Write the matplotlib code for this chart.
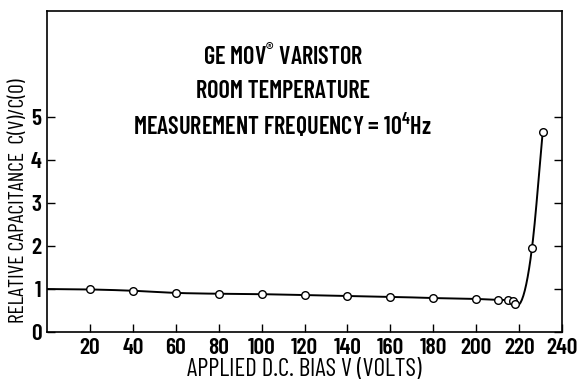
import numpy as np
import matplotlib.pyplot as plt

# applied bias (V) and relative capacitance C(V)/C(0)
bias = [20, 40, 60, 80, 100, 120, 140, 160, 180, 200, 210, 215, 217, 218, 226, 231]
cap = [0.99, 0.96, 0.91, 0.89, 0.88, 0.86, 0.84, 0.82, 0.79, 0.77, 0.745, 0.74, 0.72, 0.64, 1.95, 4.65]
# the curve starts on the axis at V = 0
start_bias = 0
start_cap = 1.0
x_ticks = [20, 40, 60, 80, 100, 120, 140, 160, 180, 200, 220, 240]
y_ticks = [0, 1, 2, 3, 4, 5]
title_lines = ['GE MOV$^{\\circledR}$ VARISTOR', 'ROOM TEMPERATURE',
               'MEASUREMENT FREQUENCY = 10$^{4}$Hz']

plt.rcParams['font.family'] = ['Barlow Condensed', 'DejaVu Sans']
plt.rcParams['font.weight'] = 600
plt.rcParams['mathtext.fontset'] = 'custom'
plt.rcParams['mathtext.rm'] = 'Barlow Condensed:semibold'


def smooth(xs, ys, n=12):
    """Hermite curve through the points, only for drawing the line."""
    xs = np.asarray(xs, float)
    ys = np.asarray(ys, float)
    m = np.gradient(ys, xs)
    px, py = [], []
    for i in range(len(xs) - 1):
        h = xs[i + 1] - xs[i]
        t = np.linspace(0, 1, n, endpoint=False)
        h00 = 2 * t**3 - 3 * t**2 + 1
        h10 = t**3 - 2 * t**2 + t
        h01 = -2 * t**3 + 3 * t**2
        h11 = t**3 - t**2
        px.extend(xs[i] + t * h)
        py.extend(h00 * ys[i] + h10 * h * m[i] + h01 * ys[i + 1] + h11 * h * m[i + 1])
    px.append(xs[-1])
    py.append(ys[-1])
    return px, py


fig = plt.figure(figsize=(5.8, 3.84), dpi=100)
ax = fig.add_axes([47 / 580, 52 / 384, 515 / 580, 321 / 384])

lx, ly = smooth([start_bias] + bias, [start_cap] + cap)
ax.plot(lx, ly, color='black', lw=1.4, zorder=2)
ax.plot(bias, cap, 'o', ms=5.5, mfc='white', mec='black', mew=1.0, zorder=3)

ax.set_xlim(0, 240)
ax.set_ylim(0, 7.47)
ax.set_xticks(x_ticks)
ax.set_yticks(y_ticks)
ax.tick_params(direction='in', length=6, width=1, labelsize=17, right=True, top=False)
ax.tick_params(axis='x', pad=4)
ax.tick_params(axis='y', pad=4)
for s in ax.spines.values():
    s.set_linewidth(1.2)

ax.set_xlabel('APPLIED D.C. BIAS V (VOLTS)', fontsize=18, labelpad=0)
ax.set_ylabel('RELATIVE CAPACITANCE  C(V)/C(0)', fontsize=15.5, labelpad=0)
ax.yaxis.set_label_coords(-0.037, 0.41)

for line, yy in zip(title_lines, [0.857, 0.748, 0.642]):
    ax.text(0.458, yy, line, transform=ax.transAxes, ha='center', va='center', fontsize=17.5)

fig.savefig('out.png', dpi=100)
